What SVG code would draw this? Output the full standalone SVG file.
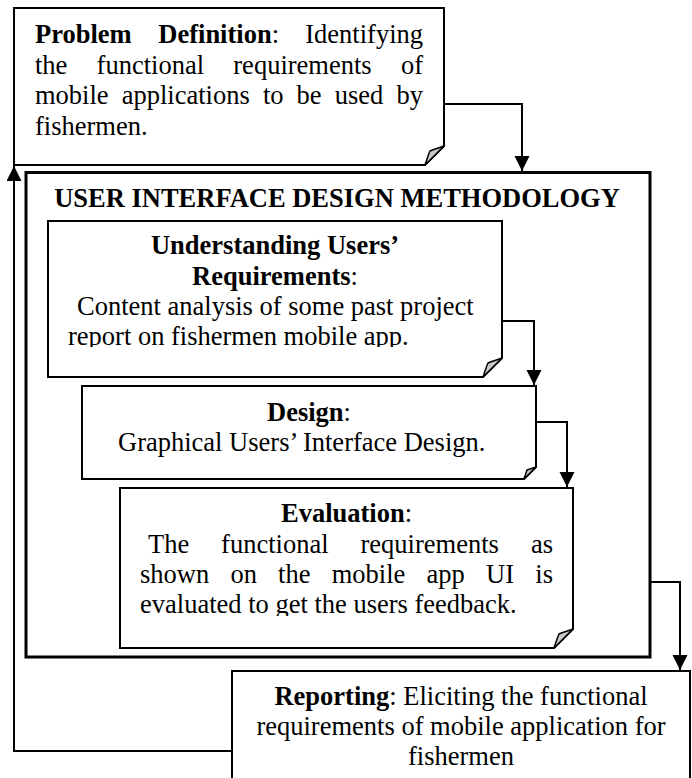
<svg xmlns="http://www.w3.org/2000/svg" width="692" height="778" viewBox="0 0 692 778">
<defs>
<marker id="ah" markerUnits="userSpaceOnUse" markerWidth="16" markerHeight="16" refX="15" refY="7.5" orient="auto"><path d="M0,0 L15,7.5 L0,15 Z" fill="#000"/></marker>
<clipPath id="clipU"><rect x="48" y="221" width="454" height="126"/></clipPath>
<clipPath id="clipE"><rect x="120" y="488" width="453" height="128"/></clipPath>
</defs>
<style>
.box{fill:#fff;stroke:#000;stroke-width:2}
.outer{fill:#fff;stroke:#000;stroke-width:3}
.fold{fill:#c8c8c8;stroke:#000;stroke-width:1.5;stroke-linejoin:round}
.t{font-family:"Liberation Serif","Times New Roman",serif;font-size:26.5px;fill:#000}
.b{font-weight:bold}
.c{text-anchor:middle}
.e{text-anchor:end}
.conn{fill:none;stroke:#000;stroke-width:2;marker-end:url(#ah)}
</style>

<g id="problem-definition">
<path class="box" d="M14,8 H444 V146 L425,165 H14 Z"/>
<path class="fold" d="M425,165 L444,146 C439,148 434,149 430,151 C428,155 427,160 425,165 Z"/>
<text class="t b" x="35" y="43">Problem</text>
<text class="t" x="158.3" y="43"><tspan class="b">Definition</tspan>:</text>
<text class="t e" x="423" y="43">Identifying</text>
<text class="t" x="35" y="73.5">the</text>
<text class="t" x="96.6" y="73.5">functional</text>
<text class="t" x="233.3" y="73.5">requirements</text>
<text class="t e" x="423" y="73.5">of</text>
<text class="t" x="35" y="104">mobile</text>
<text class="t" x="121.7" y="104">applications</text>
<text class="t" x="262.9" y="104">to</text>
<text class="t" x="296.6" y="104">be</text>
<text class="t" x="334.7" y="104">used</text>
<text class="t e" x="423" y="104">by</text>
<text class="t" x="35" y="134.5">fishermen.</text>
</g>

<g id="ui-design-methodology">
<rect class="outer" x="26" y="172.5" width="624" height="484.5"/>
<text class="t b c" x="337" y="207">USER INTERFACE DESIGN METHODOLOGY</text>
</g>

<g id="understanding-requirements">
<path class="box" d="M48,221 H502 V358 L483,377 H48 Z"/>
<path class="fold" d="M483,377 L502,358 C497,360 492,361 488,363 C486,367 485,372 483,377 Z"/>
<text class="t b c" x="275" y="254">Understanding Users’</text>
<text class="t c" x="275" y="285"><tspan class="b">Requirements</tspan>:</text>
<g clip-path="url(#clipU)">
<text class="t" x="77" y="315">Content analysis of some past project</text>
<text class="t" x="68" y="345">report on fishermen mobile app.</text>
</g>
</g>

<g id="design">
<path class="box" d="M82,386 H536 V467 L524,479 H82 Z"/>
<path class="fold" d="M524,479 L536,467 C533,468 530,469 527,470 C526,473 525,476 524,479 Z"/>
<text class="t c" x="309" y="421"><tspan class="b">Design</tspan>:</text>
<text class="t" x="118" y="451">Graphical Users’ Interface Design.</text>
</g>

<g id="evaluation">
<path class="box" d="M120,488 H573 V629 L554,648 H120 Z"/>
<path class="fold" d="M554,648 L573,629 C568,631 563,632 559,634 C557,638 556,643 554,648 Z"/>
<text class="t c" x="346.5" y="522"><tspan class="b">Evaluation</tspan>:</text>
<g clip-path="url(#clipE)">
<text class="t" x="148" y="553">The</text>
<text class="t" x="221.1" y="553">functional</text>
<text class="t" x="360.5" y="553">requirements</text>
<text class="t e" x="553" y="553">as</text>
<text class="t" x="140" y="583">shown</text>
<text class="t" x="230.4" y="583">on</text>
<text class="t" x="278.1" y="583">the</text>
<text class="t" x="331.7" y="583">mobile</text>
<text class="t" x="426.5" y="583">app</text>
<text class="t" x="486" y="583">UI</text>
<text class="t e" x="553" y="583">is</text>
<text class="t" x="140" y="613">evaluated to get the users feedback.</text>
</g>
</g>

<g id="reporting">
<rect class="box" x="232" y="671" width="458" height="140"/>
<text class="t c" x="461" y="705"><tspan class="b">Reporting</tspan>: Eliciting the functional</text>
<text class="t c" x="461" y="735">requirements of mobile application for</text>
<text class="t c" x="461" y="765">fishermen</text>
</g>

<g id="connectors">
<path class="conn" d="M444,104 H522 V171"/>
<path class="conn" d="M502,321 H534 V385"/>
<path class="conn" d="M536,422 H567 V487"/>
<path class="conn" d="M650,582 H680 V670"/>
<path class="conn" d="M232,751 H14 V166"/>
</g>
</svg>
